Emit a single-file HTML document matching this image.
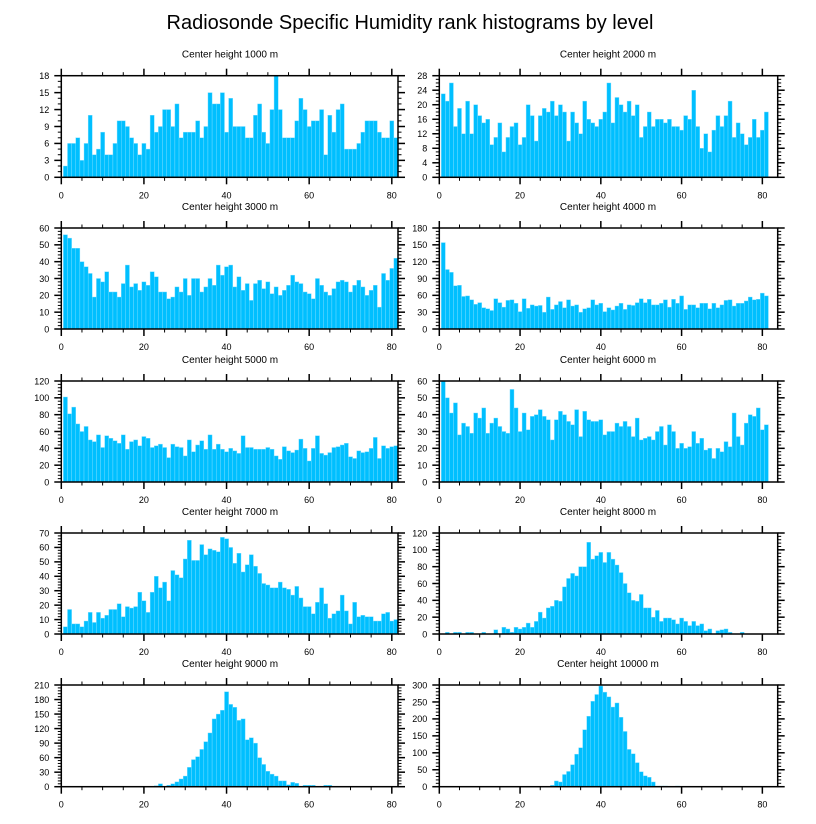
<!DOCTYPE html>
<html><head><meta charset="utf-8"><style>
html,body{margin:0;padding:0;background:#fff;}
svg{display:block;font-family:"Liberation Sans",sans-serif;}
</style></head><body>
<svg id="c" width="816" height="824" viewBox="0 0 816 824" xmlns="http://www.w3.org/2000/svg">
<text x="410" y="29" font-size="20" text-anchor="middle" fill="#000">Radiosonde Specific Humidity rank histograms by level</text>
</svg>
<script>
const titles = ["Center height 1000 m","Center height 2000 m","Center height 3000 m","Center height 4000 m","Center height 5000 m","Center height 6000 m","Center height 7000 m","Center height 8000 m","Center height 9000 m","Center height 10000 m"];
const yMax = [18,28,60,180,120,60,70,120,210,300];
const yStep = [3,4,10,30,20,10,10,20,30,50];
const xTicks = [0,20,40,60,80];
const h1000 = [2,6,6,7,3,6,11,4,5,8,4,4,6,10,10,9,7,6,4,6,5,11,8,9,12,12,9,13,7,8,8,8,10,7,9,15,13,13,15,8,14,9,9,9,7,7,11,13,8,6,12,18,12,7,7,7,10,14,12,9,10,10,12,4,11,8,12,13,5,5,5,6,8,10,10,10,8,7,7,10,7];
const h2000 = [23,21,26,14,19,12,21,12,20,17,15,16,9,11,15,7,11,14,15,9,11,20,17,10,17,19,18,21,17,20,18,10,18,15,12,21,16,15,14,16,18,26,15,22,20,18,21,17,20,11,14,18,14,16,16,15,16,14,14,13,17,16,24,14,8,12,7,13,17,14,17,21,11,15,12,9,11,16,11,13,18];
const h3000 = [56,54,48,48,40,37,33,19,30,28,34,22,22,19,27,38,25,27,23,28,26,34,31,22,22,18,19,25,22,30,20,30,30,22,25,30,26,38,32,37,38,25,31,23,27,17,27,29,24,28,21,25,20,23,26,32,28,27,22,21,18,30,26,22,20,24,28,29,28,22,26,29,25,20,23,26,13,33,29,36,42];
const h4000 = [154,106,101,77,78,58,59,52,44,47,38,36,33,54,47,39,51,52,46,31,54,37,43,41,42,30,57,35,43,49,38,52,41,43,30,36,38,52,43,46,31,38,34,41,46,35,43,42,47,54,47,53,43,43,46,52,39,53,46,59,35,43,43,38,46,46,36,46,38,43,51,52,41,46,46,50,57,52,53,64,59];
const h5000 = [101,81,89,69,60,66,50,48,56,41,55,52,49,46,56,39,48,50,43,54,52,41,43,45,41,29,45,42,41,31,50,36,44,49,39,56,39,45,39,36,40,37,34,55,41,41,39,39,39,41,39,31,27,42,37,35,38,51,40,25,40,55,34,32,35,41,42,44,46,30,28,37,35,36,40,53,28,43,40,42,43];
const h6000 = [60,50,41,47,28,35,33,29,41,38,44,29,35,38,33,30,29,55,44,30,41,31,39,40,43,39,37,25,37,42,40,36,34,43,27,42,37,36,36,37,28,30,30,35,33,36,33,27,38,25,26,27,25,30,33,22,34,30,20,23,20,21,30,23,26,19,20,14,20,18,24,21,41,27,22,35,40,39,44,31,34];
const h7000 = [5,17,7,7,5,9,15,8,15,11,13,17,17,21,12,19,18,19,29,23,15,29,40,32,36,23,44,41,39,52,65,51,51,62,55,59,58,57,67,66,60,49,56,43,48,55,47,42,35,34,32,32,36,32,31,27,33,25,19,19,14,22,32,21,11,14,16,27,16,7,22,12,13,12,12,9,9,14,15,9,10];
const h8000 = [0,2,0,2,2,0,2,2,0,0,2,0,0,5,0,8,6,2,8,6,8,13,8,15,26,19,31,33,40,39,56,66,72,69,80,80,109,89,93,97,85,97,89,82,73,60,49,40,39,47,31,31,20,28,15,19,19,17,12,19,15,10,15,10,12,4,6,0,4,5,6,2,0,0,2,0,0,0,0,0,0];
const h9000 = [0,0,0,0,0,0,0,0,0,0,0,0,0,0,0,0,1,1,1,0,0,1,2,6,1,3,6,10,16,22,40,56,62,77,93,111,140,150,158,196,170,164,137,140,97,101,90,60,46,32,26,22,12,12,4,9,7,1,3,3,3,1,0,3,3,1,1,1,0,0,0,0,0,0,0,0,0,0,0,0,0];
const h10000 = [0,0,0,0,0,0,0,0,0,0,0,0,0,0,0,0,0,0,0,0,0,0,1,1,1,1,1,4,17,14,36,45,65,96,115,168,208,252,272,297,279,265,235,247,205,163,110,97,71,44,32,28,14,2,2,2,1,1,2,1,1,1,1,1,1,1,0,0,0,0,0,0,0,0,0,0,0,0,0,0,0];
const series = [h1000,h2000,h3000,h4000,h5000,h6000,h7000,h8000,h9000,h10000];

const NS = "http://www.w3.org/2000/svg";
const svg = document.getElementById('c');
const rowTop = [75.7,228,381,533,685];
const rowBot = [177.3,329,482,634,786.7];
const colL = [61.3,439.3];
const colR = [398,777.7];
const colXmax = [81.5,83.8];
const colTitleX = [230,608];

function mk(tag, attrs, parent){
  const e = document.createElementNS(NS, tag);
  for (const k in attrs) e.setAttribute(k, attrs[k]);
  (parent||svg).appendChild(e);
  return e;
}

for (let p = 0; p < 10; p++) {
  const col = p % 2, row = Math.floor(p / 2);
  const L = colL[col], R = colR[col], T = rowTop[row], B = rowBot[row];
  const xs = v => L + v / colXmax[col] * (R - L);
  const ys = v => B - v / yMax[p] * (B - T);
  const g = mk('g', {});
  
  
  const t = mk('text', {x: colTitleX[col], y: T - 18, 'font-size': 10, 'text-anchor': 'middle'}, g);
  
  
  t.textContent = titles[p];
  const data = series[p];
  data.forEach((v, i) => {
    if (v <= 0) return;
    const x0 = xs(i + 0.5), x1 = Math.min(R, xs(i + 1.5));
    if (x1 <= x0) return;
    const r = mk('rect', {x: x0, y: ys(v), width: x1 - x0, height: B - ys(v), fill: '#00BFFF', stroke: '#80DFFF', 'stroke-width': 0.4}, g);
    
    
  });
  const fr = mk('rect', {x: L, y: T, width: R - L, height: B - T, fill: 'none', stroke: '#000', 'stroke-width': 1.5}, g);
  
  
  for (let v = 0; v <= 80; v += 5) {
    const major = v % 20 === 0, len = major ? 7 : 3.5, x = xs(v);
    mk('line', {x1: x, x2: x, y1: B, y2: B + len, stroke: '#000', 'stroke-width': major ? 1.5 : 1}, g);
    mk('line', {x1: x, x2: x, y1: T, y2: T - len, stroke: '#000', 'stroke-width': major ? 1.5 : 1}, g);
  }
  xTicks.forEach(v => {
    const tl = mk('text', {x: xs(v), y: B + 21, 'font-size': 9, 'text-anchor': 'middle'}, g);
    
    
    tl.textContent = v;
  });
  const st = yStep[p];
  const nsub = st === 3 ? 3 : (st === 4 ? 4 : 5);
  for (let k = 0; k <= yMax[p] / st * nsub + 1e-9; k++) {
    const v = k * st / nsub, major = k % nsub === 0, len = major ? 7 : 3.5, y = ys(v);
    mk('line', {x1: L, x2: L - len, y1: y, y2: y, stroke: '#000', 'stroke-width': major ? 1.5 : 1}, g);
    mk('line', {x1: R, x2: R + len, y1: y, y2: y, stroke: '#000', 'stroke-width': major ? 1.5 : 1}, g);
    if (major) {
      const yl = mk('text', {x: L - 12, y: y + 3.3, 'font-size': 9, 'text-anchor': 'end'}, g);
      
      
      yl.textContent = Math.round(v);
    }
  }
}
</script>
</body></html>
